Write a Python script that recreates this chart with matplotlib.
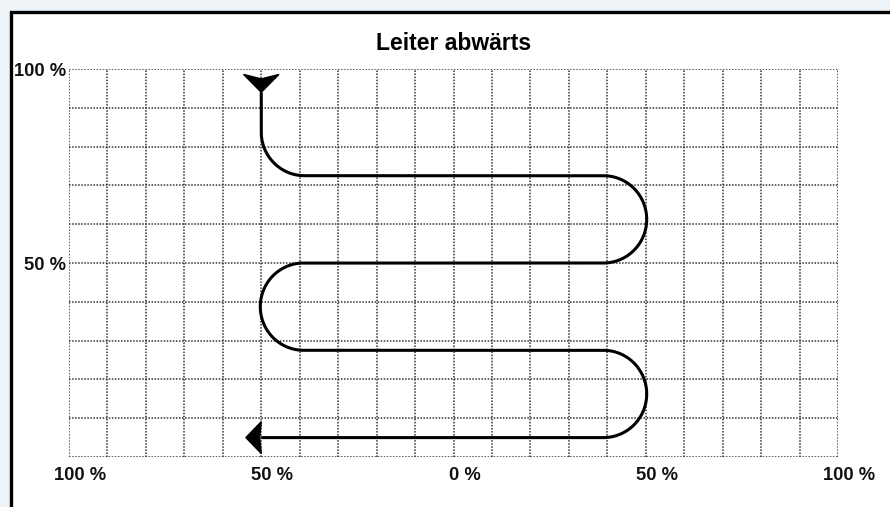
import numpy as np
import matplotlib
matplotlib.use("Agg")
import matplotlib.pyplot as plt
from matplotlib.patches import Polygon, Rectangle
import matplotlib.transforms as mtransforms

plt.rcParams['font.family'] = ['Liberation Sans', 'DejaVu Sans']

# chart content
title = "Leiter abwärts"
x_ticks = [-100, -50, 0, 50, 100]
x_labels = ["100 %", "50 %", "0 %", "50 %", "100 %"]
y_ticks = [50, 100]
y_labels = ["50 %", "100 %"]

# ladder path: horizontal rungs and turns
rung_levels = [72.5, 50, 27.5, 5]
turn_x = 39          # where the straight part ends on both sides
start_x = -50        # vertical entry
start_y = 94
end_x = -54          # arrow tip at the end
radius = 11.25

fig = plt.figure(figsize=(8.9, 5.07), dpi=100, facecolor='#eef3f8')
# white panel with black frame running off the right/bottom edges
fig.add_artist(Rectangle((10.5 / 890, -0.1), 1.2, 1 - 12 / 507 + 0.1,
                         transform=fig.transFigure, facecolor='white',
                         edgecolor='black', lw=2.4, zorder=0))

ax = fig.add_axes([69 / 890, 1 - 457 / 507, 769 / 890, 388 / 507])
ax.set_xlim(-100, 100)
ax.set_ylim(0, 100)
ax.set_facecolor('white')

grid_kw = dict(color='#333333', lw=1.1, ls=(0, (1, 1)), zorder=1)
for gx in np.arange(-100, 101, 10):
    ax.axvline(gx, **grid_kw)
for gy in np.arange(0, 101, 10):
    ax.axhline(gy, **grid_kw)
for s in ax.spines.values():
    s.set_visible(False)

ax.set_xticks(x_ticks)
ax.set_xticklabels(x_labels, fontsize=13.2, fontweight='bold', color='#111111')
ax.set_yticks(y_ticks)
ax.set_yticklabels(y_labels, fontsize=13.2, fontweight='bold', color='#111111')
ax.tick_params(length=0, pad=2)
ax.tick_params(axis='x', pad=7)
shift = mtransforms.ScaledTranslation(11 / 100, 0, fig.dpi_scale_trans)
for lab in ax.get_xticklabels():
    lab.set_transform(lab.get_transform() + shift)

ax.set_title(title, fontsize=16.5, fontweight='bold', pad=14)

# build the path
xs, ys = [], []
# vertical entry then quarter turn into first rung
xs += [start_x, start_x]
ys += [start_y, rung_levels[0] + radius]
t = np.linspace(np.pi, 1.5 * np.pi, 30)
cx, cy = start_x + radius, rung_levels[0] + radius
xs += list(cx + radius * np.cos(t))
ys += list(cy + radius * np.sin(t))
side = 1
for i in range(len(rung_levels) - 1):
    top, bot = rung_levels[i], rung_levels[i + 1]
    xe = side * turn_x
    xs.append(xe)
    ys.append(top)
    cy = (top + bot) / 2
    r = (top - bot) / 2
    t = np.linspace(np.pi / 2, -np.pi / 2, 60)
    xs += list(xe + side * r * np.cos(t))
    ys += list(cy + r * np.sin(t))
    side = -side
xs.append(start_x)
ys.append(rung_levels[-1])
ax.plot(xs, ys, color='black', lw=2.2, solid_capstyle='butt', zorder=3)

# arrow heads
hw, hl = 4.6, 4.6
top_head = [(start_x, start_y), (start_x - hw, start_y + hl),
            (start_x, start_y + hl * 0.75), (start_x + hw, start_y + hl)]
ax.add_patch(Polygon(top_head, closed=True, color='black', zorder=4))
yb = rung_levels[-1]
end_head = [(end_x, yb), (start_x, yb + 4.1), (start_x - 0.4, yb),
            (start_x, yb - 4.1)]
ax.add_patch(Polygon(end_head, closed=True, color='black', zorder=4))

fig.savefig("out.png", dpi=100, facecolor=fig.get_facecolor())
